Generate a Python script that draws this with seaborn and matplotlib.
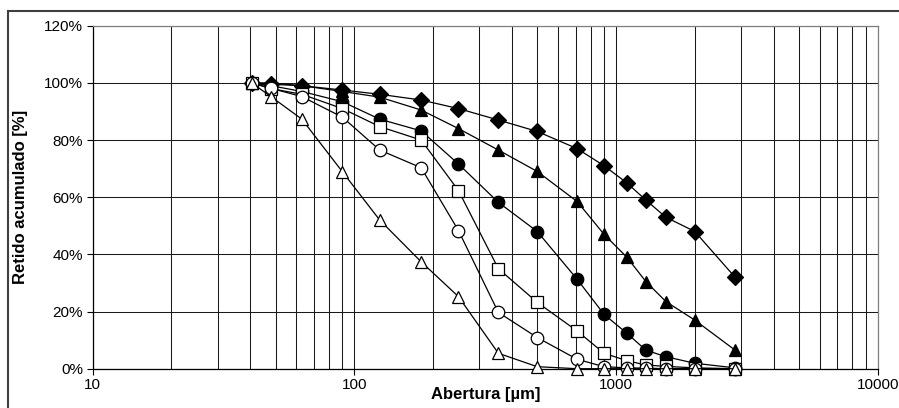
import numpy as np
import pandas as pd
import seaborn as sns
from matplotlib import pyplot as plt
from matplotlib.patches import Rectangle
from matplotlib.ticker import LogLocator, NullFormatter, PercentFormatter, FixedLocator

# sieve openings [um]
aberturas = [40.5, 48, 63, 90, 125, 180, 250, 355, 500, 710, 900, 1100, 1300, 1550, 2000, 2850]

# cumulative retained [%] per sample
diamante = [100, 99.5, 99, 97.5, 96, 94, 91, 87, 83, 77, 71, 65, 59, 53, 48, 32]
triangulo_cheio = [100, 100, 99, 97, 95, 90.5, 84, 76.5, 69, 58.5, 47, 39, 30.5, 23.5, 17, 6.5]
circulo_cheio = [100, 99, 97, 93.4, 87.3, 83.2, 71.6, 58.2, 48, 31.3, 19, 12.4, 6.5, 4.2, 1.9, 0.3]
quadrado = [100, 98, 96, 91, 84.7, 80, 62.3, 35, 23.2, 13.2, 5.4, 2.8, 1.3, 0.8, 0.3, 0]
circulo_vazio = [100, 98.1, 95.2, 88, 76.5, 70.3, 48.3, 19.7, 10.9, 3.3, 0.7, 0.3, 0.2, 0, 0, 0]
triangulo_vazio = [100, 95.2, 87.3, 68.9, 52, 37.4, 25.2, 5.4, 0.7, 0, 0, 0, 0, 0, 0, 0]

series = [
    (diamante, 'D', 'black', 7.8),
    (triangulo_cheio, '^', 'black', 9),
    (circulo_cheio, 'o', 'black', 9),
    (quadrado, 's', 'white', 8.5),
    (circulo_vazio, 'o', 'white', 9),
    (triangulo_vazio, '^', 'white', 9),
]

sns.set_style("white")
plt.rcParams['font.family'] = ['Liberation Sans', 'DejaVu Sans']
plt.rcParams['text.color'] = 'black'
plt.rcParams['axes.labelcolor'] = 'black'
plt.rcParams['xtick.color'] = 'black'
plt.rcParams['ytick.color'] = 'black'

fig = plt.figure(figsize=(8.99, 4.08), dpi=100)
ax = fig.add_axes([92.7 / 899, 39.3 / 408, 785 / 899, 343 / 408])

for vals, mk, face, ms in series:
    df = pd.DataFrame({'abertura': aberturas, 'retido': vals})
    sns.lineplot(data=df, x='abertura', y='retido', ax=ax, color='black', linewidth=0.9,
                 marker=mk, markersize=ms, markerfacecolor=face, markeredgecolor='black',
                 markeredgewidth=0.9, clip_on=False, zorder=3)

ax.set_xscale('log')
ax.set_xlim(10, 10000)
ax.set_ylim(0, 120)
ax.yaxis.set_major_locator(FixedLocator(np.arange(0, 121, 20)))
ax.yaxis.set_major_formatter(PercentFormatter(xmax=100, decimals=0))
ax.xaxis.set_major_locator(LogLocator(base=10))
ax.xaxis.set_minor_locator(LogLocator(base=10, subs=np.arange(2, 10)))
ax.xaxis.set_minor_formatter(NullFormatter())
ax.xaxis.set_major_formatter(plt.FuncFormatter(lambda v, p: f"{int(v)}"))

ax.grid(True, which='major', axis='both', color='0.1', linewidth=0.75)
ax.grid(True, which='minor', axis='x', color='0.1', linewidth=0.75)

ax.tick_params(axis='both', which='major', direction='out', length=4, width=0.8,
               color='black', labelcolor='black', labelsize=11, pad=3)
ax.tick_params(axis='x', which='minor', length=0)
ax.tick_params(left=True, bottom=True)

for side in ['left', 'bottom']:
    ax.spines[side].set_color('black')
    ax.spines[side].set_linewidth(0.9)
for side in ['top', 'right']:
    ax.spines[side].set_color('0.5')
    ax.spines[side].set_linewidth(0.9)

ax.set_xlabel('Abertura [µm]', fontsize=12, fontweight='bold', color='black')
ax.set_ylabel('Retido acumulado [%]', fontsize=12, fontweight='bold', color='black')
ax.xaxis.set_label_coords(0.501, -0.074)
ax.xaxis.label.set_va('center')
ax.yaxis.set_label_coords(-0.0926, 0.5)
ax.yaxis.label.set_va('center')

fig.patches.append(Rectangle((8 / 899, -0.05), 1.0, (408 - 11) / 408 + 0.05,
                             transform=fig.transFigure, fill=False,
                             edgecolor='0.25', linewidth=1.5))

fig.savefig('out.png', dpi=100)
